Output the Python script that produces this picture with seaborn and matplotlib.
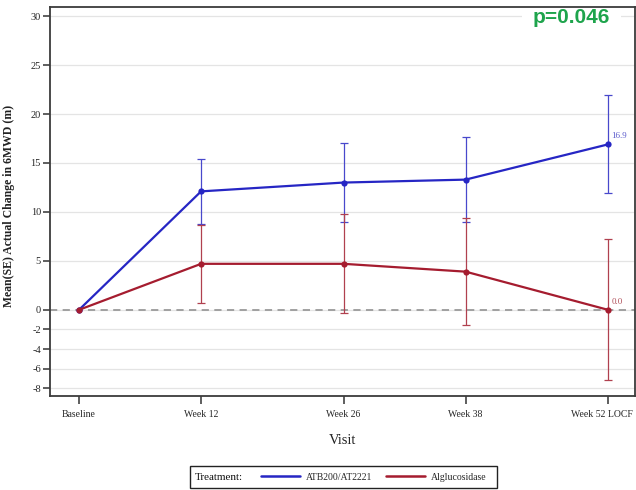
import numpy as np
import pandas as pd
import matplotlib
matplotlib.use("Agg")
import matplotlib.pyplot as plt
import matplotlib.transforms as mtransforms
from matplotlib.lines import Line2D
from matplotlib.patches import Rectangle
import seaborn as sns

# Visit schedule (weeks from baseline) and tick labels
weeks = [0, 12, 26, 38, 52]
visit_labels = ["Baseline", "Week 12", "Week 26", "Week 38", "Week 52 LOCF"]

# Mean change in 6MWD (m) and standard errors per treatment
atb_mean = [0.0, 12.1, 13.0, 13.3, 16.9]
atb_se = [0.0, 3.3, 4.05, 4.35, 5.0]
alg_mean = [0.0, 4.7, 4.7, 3.9, 0.0]
alg_se = [0.0, 4.0, 5.05, 5.45, 7.2]

groups = ["ATB200/AT2221", "Alglucosidase"]
y_ticks = [30, 25, 20, 15, 10, 5, 0, -2, -4, -6, -8]
p_text = "p=0.046"

line_colors = {"ATB200/AT2221": "#2626c4", "Alglucosidase": "#a51c2f"}
err_colors = {"ATB200/AT2221": "#4848cc", "Alglucosidase": "#b0404f"}
label_colors = {"ATB200/AT2221": "#5c5ccc", "Alglucosidase": "#b0505a"}

df = pd.DataFrame({
    "week": weeks * 2,
    "mean": atb_mean + alg_mean,
    "se": atb_se + alg_se,
    "Treatment": [groups[0]] * len(weeks) + [groups[1]] * len(weeks),
})

sns.set_style("white")
plt.rcParams["font.family"] = ["Liberation Serif", "DejaVu Serif"]

W, H = 636, 490
fig = plt.figure(figsize=(W / 100, H / 100), dpi=100)
ax = fig.add_axes([50 / W, 1 - 396 / H, 585 / W, 388.7 / H])

# light horizontal reference grid and dashed zero line
for yt in y_ticks:
    ax.axhline(yt, color="#e4e4e4", lw=0.9, zorder=0)
ax.axhline(0, color="#9a9a9a", lw=1.3, ls=(0, (4, 3)), zorder=1)

# standard-error bars (baseline has none)
for g in groups:
    sub = df[(df["Treatment"] == g) & (df["week"] > 0)]
    ax.errorbar(sub["week"], sub["mean"], yerr=sub["se"], fmt="none",
                ecolor=err_colors[g], elinewidth=0.9, capsize=3.2,
                capthick=0.9, zorder=2)

sns.lineplot(data=df, x="week", y="mean", hue="Treatment",
             palette=line_colors, marker="o", markersize=4.5,
             markeredgewidth=0, linewidth=1.6, errorbar=None,
             legend=False, ax=ax, zorder=3)

# value labels at the final visit
for g, vals in zip(groups, [atb_mean, alg_mean]):
    ax.annotate(f"{vals[-1]:.1f}", (weeks[-1], vals[-1]),
                xytext=(2.5, 3), textcoords="offset points",
                fontsize=6.5, color=label_colors[g], ha="left", va="bottom")

ax.set_xlim(-2.85, 54.65)
ax.set_ylim(-8.8, 30.9)
ax.set_xticks(weeks)
ax.set_xticklabels(visit_labels)
ax.set_yticks(y_ticks)
ax.set_yticklabels([str(v) for v in y_ticks])
ax.tick_params(axis="x", direction="out", length=6, width=1.1,
               color="#333333", labelsize=7, pad=4, bottom=True)
ax.tick_params(axis="y", direction="out", length=5, width=1.1,
               color="#333333", labelsize=7.5, pad=1.5, left=True)
for sp in ax.spines.values():
    sp.set_color("#3c3c3c")
    sp.set_linewidth(1.3)

# nudge the last visit label so it stays inside the figure
last = ax.get_xticklabels()[-1]
last.set_transform(last.get_transform() +
                   mtransforms.ScaledTranslation(-6 / 100, 0, fig.dpi_scale_trans))

ax.set_ylabel("Mean(SE) Actual Change in 6MWD (m)", fontsize=8.5,
              fontweight="bold", color="#222222")
ax.yaxis.set_label_coords(-0.06, 0.49)
ax.set_xlabel("Visit", fontsize=10.5, color="#222222")
ax.xaxis.set_label_coords(0.5, -0.098)

# p-value annotation, its white backing sits under the frame but over the grid
ax.text(533 / W, 1 - 22.7 / H, p_text, fontsize=15, fontweight="bold",
        color="#1ea44c", family=["Liberation Sans", "DejaVu Sans"],
        ha="left", va="baseline", transform=fig.transFigure, zorder=2,
        bbox=dict(facecolor="white", edgecolor="none", pad=8))

# legend strip below the chart
fig.patches.append(Rectangle((190 / W, 1 - 487.5 / H), 307 / W, 21.5 / H,
                             transform=fig.transFigure, fill=False,
                             edgecolor="#222222", linewidth=1.0))
fig.text(195 / W, 1 - 477 / H, "Treatment:", fontsize=8, ha="left",
         va="center", color="#111111")
handles = [Line2D([], [], color=line_colors[g], lw=1.8) for g in groups]
fig.legend(handles, groups, loc="center left",
           bbox_to_anchor=(261 / W, 1 - 477 / H), frameon=False, ncol=2,
           fontsize=7, handlelength=4.0, handletextpad=0.6,
           columnspacing=1.4, borderpad=0, borderaxespad=0)

fig.savefig("out.png", dpi=100)
